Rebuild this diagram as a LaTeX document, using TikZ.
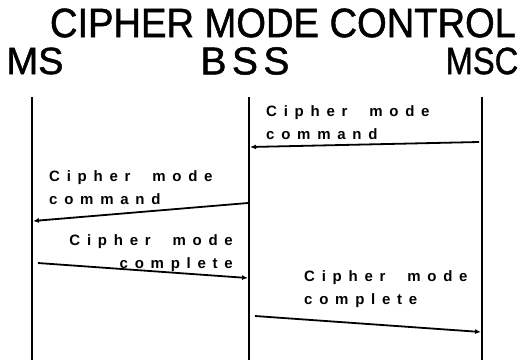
\documentclass[tikz,border=0pt]{standalone}
\usepackage{fontspec}
\setmainfont{Liberation Sans}
\newfontfamily\headfont[FakeBold=1.2]{Liberation Sans}
\newfontfamily\widefont[LetterSpace=14, FakeBold=1.2]{Liberation Sans}
\newfontfamily\msgfont[LetterSpace=45, WordSpace=2]{Liberation Sans}
\usetikzlibrary{arrows.meta, positioning}

\begin{document}
\begin{tikzpicture}[
    x=1pt, y=-1pt,
    title/.style={font=\headfont\fontsize{41}{41}\selectfont, inner sep=0pt, xscale=0.93, transform shape},
    entity/.style={font=\headfont\fontsize{38}{38}\selectfont, inner sep=0pt},
    lifeline/.style={line width=1.3pt},
    msg/.style={line width=1.8pt, -{Latex[length=6pt, width=5pt]}},
    msglabel/.style={font=\msgfont\bfseries\fontsize{15}{23}\selectfont, inner sep=0pt}
]
\useasboundingbox (0,0) rectangle (521,360);

% Titel
\node[title] (title) at (283, 23) {CIPHER MODE CONTROL};

% Instanzen
\node[entity] (ms) at (35, 61) {MS};
\node[entity, font=\widefont\fontsize{39}{39}\selectfont] (bss) at (245, 61) {BSS};
\node[entity, xscale=0.86, transform shape] (msc) at (482, 61) {MSC};

% Lebenslinien
\coordinate (msTop) at (32, 97);
\coordinate (msBot) at (32, 360);
\coordinate (bssTop) at (249, 97);
\coordinate (bssBot) at (249, 360);
\coordinate (mscTop) at (482, 97);
\coordinate (mscBot) at (482, 360);
\draw[lifeline] (msTop) -- (msBot);
\draw[lifeline] (bssTop) -- (bssBot);
\draw[lifeline] (mscTop) -- (mscBot);

% Nachrichten
\coordinate (a1) at (479, 142);
\coordinate (b1) at (250, 147);
\draw[msg] (a1) -- (b1);
\node[msglabel, align=left, anchor=south west] (l1) at (266, 140) {Cipher mode\\command};

\coordinate (a2) at (248, 203);
\coordinate (b2) at (33, 221);
\draw[msg] (a2) -- (b2);
\node[msglabel, align=left, anchor=south west] (l2) at (49, 205) {Cipher mode\\command};

\coordinate (a3) at (38, 263);
\coordinate (b3) at (248, 278);
\draw[msg] (a3) -- (b3);
\node[msglabel, align=right, anchor=south east] (l3) at (233, 272) {Cipher mode\\complete};

\coordinate (a4) at (255, 316);
\coordinate (b4) at (481, 332);
\draw[msg] (a4) -- (b4);
\node[msglabel, align=left, anchor=south west] (l4) at (304, 308) {Cipher mode\\complete};

\end{tikzpicture}
\end{document}
